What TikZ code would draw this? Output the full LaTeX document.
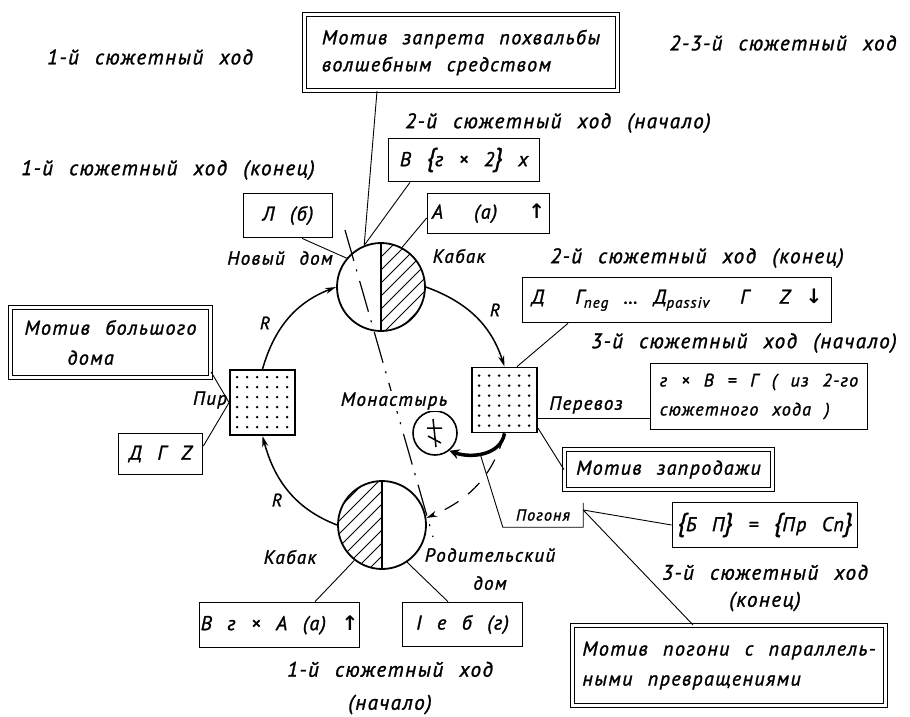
\documentclass[tikz,border=0pt]{standalone}
\usepackage{fontspec}
\newfontfamily\hand{PT Sans}[LetterSpace=7,WordSpace=2.3,FakeBold=1.3]
\newfontfamily\symf{DejaVu Sans}
\usetikzlibrary{arrows.meta,calc}
\newcommand\fs[1]{\fontsize{#1}{#1}\selectfont}
\newcommand\fsb[2]{\fontsize{#1}{#2}\selectfont}
\newcommand\lsub[1]{\raisebox{-4pt}{\fs{15}#1}}
\newcommand\uparr{{\symf\upshape\bfseries ↑}}
\newcommand\dnarr{{\symf\upshape\bfseries ↓}}
\newcommand\LB{{\fs{26}\{}}
\newcommand\RB{{\fs{26}\}}}
\begin{document}
\begin{tikzpicture}[x=1pt,y=-1pt,
  every node/.style={font=\hand\itshape\fs{21}, inner sep=0pt},
  sbox/.style={draw, line width=1.7pt, font=\hand\itshape\fs{20}},
  dbox/.style={draw, line width=1.2pt, double, double distance=2.4pt, align=left},
  lab/.style={font=\hand\itshape\fs{19}},
  rl/.style={font=\hand\itshape\fs{18}},
  leader/.style={line width=0.9pt},
  arcl/.style={line width=1.5pt},
  tip/.style={-{Stealth[length=11pt,width=6pt]}},
  sq/.style={draw, line width=1.8pt, minimum size=65pt},
  circ/.style={draw, circle, line width=1.8pt},
  hatch/.style={line width=1pt},
]
\useasboundingbox (0,0) rectangle (910,716);

% hatching
\begin{scope}
\clip (381,287) circle[radius=44];
\clip (381,240) rectangle (430,335);
\foreach \c in {612,625,...,768} \draw[hatch] (330,\c-330) -- (440,\c-440);
\end{scope}
\begin{scope}
\clip (382,525) circle[radius=44];
\clip (330,475) rectangle (382,575);
\foreach \c in {808,821,...,960} \draw[hatch] (320,\c-320) -- (440,\c-440);
\end{scope}

% circles and squares
\node[circ, minimum size=88pt] (C1) at (381,287) {};
\node[circ, minimum size=88pt] (C2) at (382,525) {};
\draw[line width=1.4pt] (C1.north) -- (C1.south);
\draw[line width=1.4pt] (C2.north) -- (C2.south);
\node[circ, minimum size=44pt, line width=1.6pt] (C3) at (435,433) {};
\draw[line width=1.5pt] (433,419) -- (436,447) (427,428) -- (442,428) (428,436) -- (441,443);
\node[sq] (S1) at (262.5,402.5) {};
\node[sq] (S2) at (504.5,400) {};
\foreach \i in {0,...,5} \foreach \j in {0,...,5} {
  \fill ($(S1.north west)+(8+10*\i,8+10*\j)$) circle[radius=1.4];
  \fill ($(S2.north west)+(8+10*\i,9+10*\j)$) circle[radius=1.4];
}

% boxes
\node[dbox, minimum width=313pt, minimum height=76pt, font=\hand\itshape\fsb{20}{27}] (D1) at (461,52.5) {Мотив запрета похвальбы\\волшебным средством};
\node[dbox, minimum width=200pt, minimum height=70pt, font=\hand\itshape\fsb{20}{30}] (D2) at (110.5,342.5) {Мотив большого\\\hspace*{43pt}дома};
\node[dbox, minimum width=208pt, minimum height=40pt, font=\hand\itshape\fs{20}] (D3) at (668.5,469.5) {Мотив запродажи};
\node[dbox, minimum width=313pt, minimum height=80pt, font=\hand\itshape\fsb{20}{30}] (D4) at (729,665.5) {Мотив погони с параллель-\\ными превращениями};

\node[sbox, minimum width=151pt, minimum height=43pt] (B1) at (464,160) {В \LB г × 2\RB\ х};
\node[sbox, minimum width=89pt, minimum height=44pt] (B2) at (288,215.5) {Л (б)};
\node[sbox, minimum width=122pt, minimum height=40pt] (B3) at (488.5,213.5) {А~ (а)~ \uparr};
\node[sbox, minimum width=309pt, minimum height=45pt] (B4) at (677,300) {Д~ Г\lsub{neg} … Д\lsub{passiv}~ Г~ Z \dnarr};
\node[sbox, minimum width=217pt, minimum height=66pt, align=left, font=\hand\itshape\fsb{18}{29}] (B5) at (759,396.5) {г × В = Г ( из 2-го\\сюжетного хода )};
\node[sbox, minimum width=84pt, minimum height=41pt] (B6) at (160.5,454) {Д Г Z};
\node[sbox, minimum width=160pt, minimum height=45pt] (B7) at (279.5,625) {В г × А (а) \uparr};
\node[sbox, minimum width=120pt, minimum height=44pt] (B8) at (462.5,624.5) {I е б (г)};
\node[sbox, minimum width=185pt, minimum height=45pt] (B9) at (765,525) {\LB Б П\RB\ = \LB Пр Сп\RB};

% free texts
\node (T1) at (150,57) {1-й сюжетный ход};
\node (T2) at (783,43) {2-3-й сюжетный ход};
\node (T3) at (558,123) {2-й сюжетный ход (начало)};
\node (T4) at (168,170) {1-й сюжетный ход (конец)};
\node[lab] (T5) at (280,258) {Новый дом};
\node[lab] (T6) at (459,256) {Кабак};
\node (T7) at (697,258) {2-й сюжетный ход (конец)};
\node[rl] (T8) at (495,310) {R};
\node (T9) at (744,343) {3-й сюжетный ход (начало)};
\node[rl] (T10) at (265,323) {R};
\node[lab] (T11) at (210,400) {Пир};
\node[lab] (T13) at (586,405) {Перевоз};
\node[rl] (T14) at (277,500) {R};
\node[font=\hand\itshape\fs{16}, minimum width=80pt, minimum height=24pt] (Pog) at (543,515) {Погоня};
\node[lab] (T16) at (290,557) {Кабак};
\node[lab, align=center, font=\hand\itshape\fsb{19}{28}] (T17) at (490,569) {Родительский\\дом};
\node[align=center, font=\hand\itshape\fsb{21}{27}] (T18) at (765,588) {3-й сюжетный ход\\(конец)};
\node[align=center, font=\hand\itshape\fsb{21}{33}] (T19) at (390,688) {1-й сюжетный ход\\(начало)};

% dash-dot line through the top circle
\coordinate (ddA) at (345,230);
\coordinate (ddB) at (433,537);
\draw[line width=1.2pt, dash pattern=on 32pt off 9pt on 2pt off 10pt] (ddA) -- (ddB);
\node[lab, fill=white, inner sep=1pt] (T12) at (394,401) {Монастырь};

% arcs of the cycle
\draw[arcl, tip] (S1.north) to[out=74,in=201] (C1.west);
\draw[arcl, tip] (C1.east) to[out=-20,in=108] (S2.north);
\draw[arcl, tip] (C2.west) to[out=159,in=-75] (S1.south);
\draw[line width=1.2pt, dash pattern=on 16pt off 12pt, -{Stealth[length=11pt,width=6pt]}] (S2.south) to[out=255,in=23] (C2.9);
\draw[line width=3.5pt, -{Stealth[length=10pt,width=10pt]}] (S2.south) to[out=-100,in=-20] coordinate[pos=0.55] (tk) (C3.309);

% leaders
\draw[leader] (D1.south -| 377,0) -- (C1.112);
\draw[leader] (B1.south -| 410,0) -- (C1.112);
\draw[leader] (B3.west |- 0,218) -- (C1.62);
\draw[leader] (B2.south -| 302,0) -- (C1.140);
\draw[leader] (B4.south -| 568,0) -- (S2.north -| 517,0);
\draw[leader] (S2.east |- 0,418) -- (B5.west |- 0,418);
\draw[leader] (S2.east |- 0,428) -- (D3.west);
\draw[leader] (D2.east |- 0,372) -- (S1.west);
\draw[leader] (B6.east |- 0,446) -- (S1.west);
\draw[leader] (C2.232) -- (B7.north -| 315,0);
\draw[leader] (C2.304) -- (B8.north -| 448,0);
\draw[leader] (tk) -- (Pog.south west) -- (Pog.south east) -- (Pog.north east);
\draw[leader] (Pog.east |- 0,510) -- (B9.west);
\draw[leader] (Pog.east |- 0,510) -- (D4.north -| 693,0);
\end{tikzpicture}
\end{document}
